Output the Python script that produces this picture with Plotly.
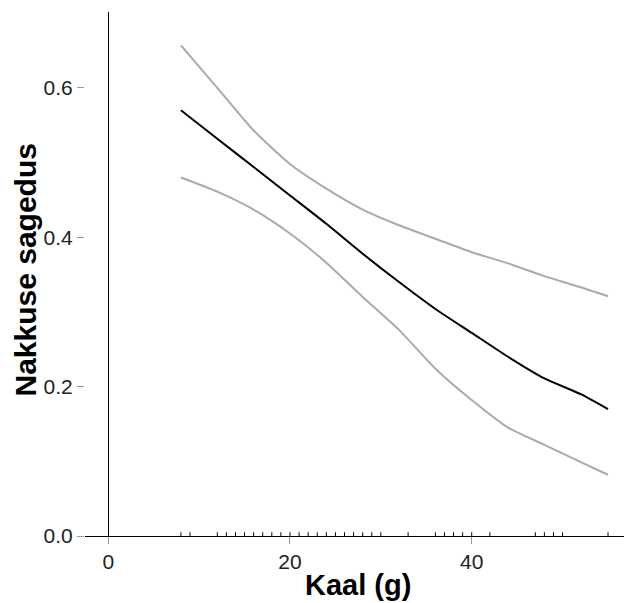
import plotly.graph_objects as go

# Data
weight = [8, 12, 16, 20, 24, 28, 32, 36, 40, 44, 48, 52, 55]
fit = [0.570, 0.532, 0.494, 0.456, 0.418, 0.378, 0.340, 0.304, 0.272, 0.240, 0.211, 0.190, 0.170]
upper = [0.657, 0.600, 0.543, 0.498, 0.465, 0.437, 0.416, 0.398, 0.380, 0.365, 0.348, 0.333, 0.321]
lower = [0.480, 0.461, 0.437, 0.405, 0.366, 0.320, 0.276, 0.224, 0.182, 0.145, 0.122, 0.099, 0.082]
rug = [8, 9] + list(range(12, 31)) + [33, 36, 37, 38, 39, 40, 42, 47, 48, 49, 50, 55]
x_ticks = [0, 20, 40]
y_ticks = [0.0, 0.2, 0.4, 0.6]
y_tick_text = ["0.0", "0.2", "0.4", "0.6"]
x_title = "Kaal (g)"
y_title = "Nakkuse sagedus"

rug_h = 0.005
rx, ry = [], []
for v in rug:
    rx += [v, v, None]
    ry += [0, rug_h, None]

fig = go.Figure()
fig.add_trace(go.Scatter(x=weight, y=upper, mode="lines",
                         line=dict(color="#aaaaaa", width=2, shape="spline", smoothing=0.6),
                         showlegend=False))
fig.add_trace(go.Scatter(x=weight, y=lower, mode="lines",
                         line=dict(color="#aaaaaa", width=2, shape="spline", smoothing=0.6),
                         showlegend=False))
fig.add_trace(go.Scatter(x=weight, y=fit, mode="lines",
                         line=dict(color="black", width=2, shape="spline", smoothing=0.6),
                         showlegend=False))
fig.add_trace(go.Scatter(x=rx, y=ry, mode="lines",
                         line=dict(color="black", width=1), showlegend=False))

fig.update_layout(
    width=624, height=603,
    margin=dict(l=85, r=0, t=12, b=67),
    plot_bgcolor="white", paper_bgcolor="white",
    font=dict(family="Liberation Sans, Arial, sans-serif", color="#222222"),
    xaxis=dict(
        range=[-2.56, 56.76], automargin=False,
        tickvals=x_ticks,
        ticks="outside", ticklen=7, tickcolor="#999999", tickwidth=1,
        tickfont=dict(size=21, color="#222222"),
        showline=True, linecolor="black", linewidth=1,
        zeroline=True, zerolinecolor="black", zerolinewidth=1,
        showgrid=False,
    ),
    yaxis=dict(
        range=[0, 0.7016], automargin=False,
        tickvals=y_ticks, ticktext=y_tick_text,
        ticks="outside", ticklen=7, tickcolor="#999999", tickwidth=1,
        tickfont=dict(size=21, color="#222222"),
        showline=False, zeroline=False, showgrid=False,
    ),
    annotations=[
        dict(text="<b>" + x_title + "</b>", xref="paper", yref="paper",
             x=0.506, y=-0.0936, xanchor="center", yanchor="middle",
             showarrow=False, font=dict(size=29, color="black")),
        dict(text="<b>" + y_title + "</b>", xref="paper", yref="paper",
             x=-0.11, y=0.508, xanchor="center", yanchor="middle", textangle=-90,
             showarrow=False, font=dict(size=30, color="black")),
    ],
)

fig.write_html("out.html", config={"displayModeBar": False},
               post_script="document.body.style.margin='0px';document.body.style.overflow='hidden';")
